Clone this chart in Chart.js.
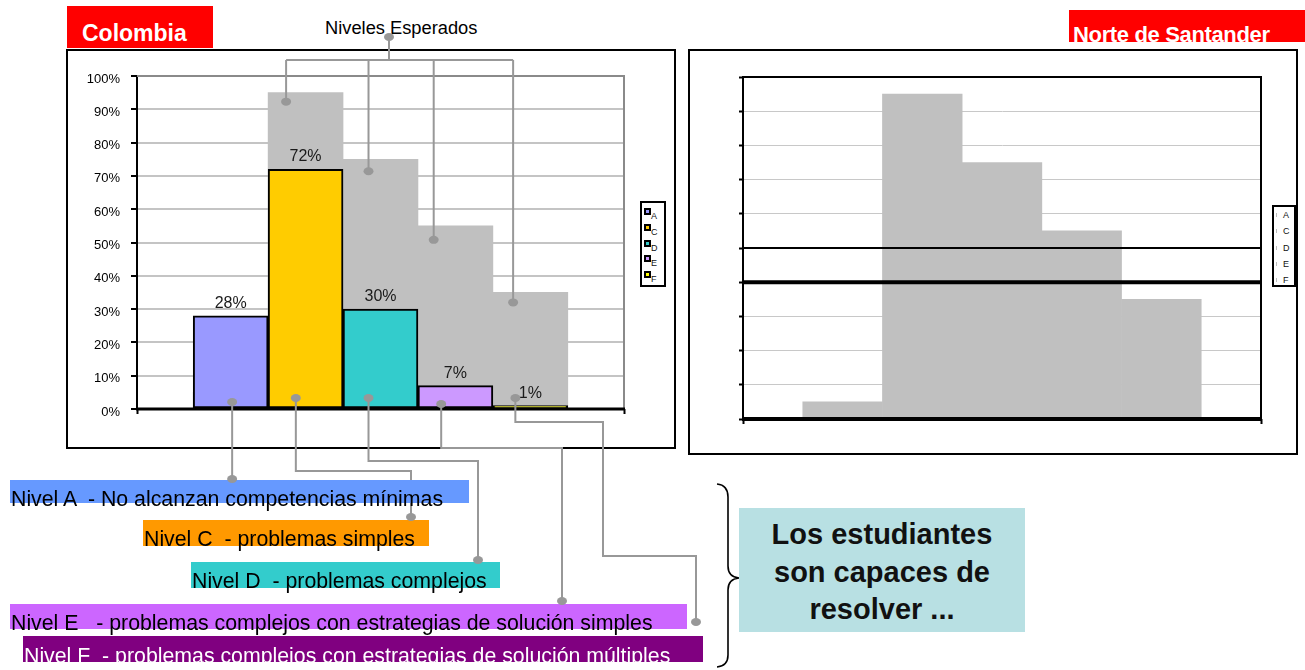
<!DOCTYPE html>
<html lang="es">
<head>
<meta charset="utf-8">
<title>Niveles de desempeño - Colombia / Norte de Santander</title>
<script src="https://cdn.jsdelivr.net/npm/chart.js@4.4.1/dist/chart.umd.min.js"></script>
<style>
    html, body { margin: 0; padding: 0; background: #fff; }
    body { width: 1305px; height: 670px; position: relative; overflow: hidden; font-family: "Liberation Sans", Arial, sans-serif; }
    .abs { position: absolute; }
    .red-title { position: absolute; background: #FF0000; color: #fff; font-weight: bold; overflow: hidden; white-space: pre; }
    .frame { position: absolute; border: 2px solid #000; box-sizing: border-box; background: #fff; }
    canvas { position: absolute; }
    .lvl { position: absolute; z-index: 4; }
    .lvl .bg { position: absolute; left: 0; top: 0; right: 0; bottom: 0; }
    .lvl .txt { position: absolute; left: 1px; white-space: pre; font-size: 21.3px; line-height: 21px; color: #000; }
    .legend { position: absolute; border: 2px solid #000; box-sizing: border-box; background: #fff; z-index: 3; }
    .legend .row { position: absolute; left: 0; font-size: 9px; line-height: 9px; color: #111; }
    .legend .sw { position: absolute; box-sizing: border-box; }
    svg { position: absolute; left: 0; top: 0; overflow: visible; }
</style>
</head>
<body>

<!-- títulos -->
<div class="red-title" style="left:67px;top:6px;width:146px;height:42px;font-size:23px;line-height:23px;padding:16px 0 0 15px;box-sizing:border-box;">Colombia</div>
<div class="red-title" style="left:1069px;top:10px;width:236px;height:32px;font-size:22px;line-height:22px;letter-spacing:-0.35px;padding:14px 0 0 4px;box-sizing:border-box;">Norte de Santander</div>
<div class="abs" style="left:325px;top:19px;font-size:18.3px;line-height:18px;color:#000;white-space:pre;">Niveles Esperados</div>

<!-- marcos de los gráficos -->
<div class="frame" style="left:66px;top:49px;width:610px;height:400px;"></div>
<div class="frame" style="left:688px;top:49px;width:610px;height:406px;"></div>

<canvas id="chart-colombia" width="610" height="400" style="left:66px;top:49px;z-index:1"></canvas>
<canvas id="chart-santander" width="610" height="406" style="left:688px;top:49px;z-index:1"></canvas>

<div id="legend-colombia" class="legend" style="left:640px;top:201px;width:26px;height:86px;"></div>
<div id="legend-santander" class="legend" style="left:1272px;top:205px;width:24px;height:82px;"></div>

<svg id="links" width="1305" height="670" style="z-index:2"></svg>

<!-- descripción de niveles -->
<div class="lvl" style="left:10px;top:480px;width:459px;height:23px;"><div class="bg" style="background:#6699FF"></div><div class="txt" style="top:9px">Nivel A  - No alcanzan competencias mínimas</div></div>
<div class="lvl" style="left:143px;top:520px;width:286px;height:26px;"><div class="bg" style="background:#FF9900"></div><div class="txt" style="top:9px">Nivel C  - problemas simples</div></div>
<div class="lvl" style="left:191px;top:562px;width:309px;height:26px;"><div class="bg" style="background:#33CCCC"></div><div class="txt" style="top:9px">Nivel D  - problemas complejos</div></div>
<div class="lvl" style="left:10px;top:604px;width:677px;height:25px;"><div class="bg" style="background:#CC66FF"></div><div class="txt" style="top:9px">Nivel E   - problemas complejos con estrategias de solución simples</div></div>
<div class="lvl" style="left:23px;top:636px;width:680px;height:26px;overflow:hidden;"><div class="bg" style="background:#800080"></div><div class="txt" style="top:10px;color:#fff">Nivel F  - problemas complejos con estrategias de solución múltiples</div></div>

<svg id="dots" width="1305" height="670" style="z-index:5"></svg>

<!-- llave y conclusión -->
<svg width="1305" height="670" style="z-index:3">
    <path d="M717 484 Q728 485 728 497 L728 566 Q728 577 739 578 Q728 579 728 590 L728 655 Q728 666 717 667" fill="none" stroke="#000" stroke-width="1.6"/>
</svg>
<div class="abs" style="left:739px;top:508px;width:286px;height:124px;background:#B8E0E3;box-sizing:border-box;padding-top:8px;text-align:center;font-weight:bold;font-size:29px;line-height:37.5px;color:#111;z-index:3;">Los estudiantes<br>son capaces de<br>resolver ...</div>

<script>
(function () {
    // ---- datos ----
    const levels = ['A', 'C', 'D', 'E', 'F'];
    const levelColors = ['#9999FF', '#FFCC00', '#33CCCC', '#CC99FF', '#FFFF00'];
    const colombiaPct = [28, 72, 30, 7, 1];
    const expectedPct = [5, 95, 75, 55, 35];
    const santanderExpectedPct = [5, 95, 75, 55, 35];
    const santanderMarks = [50, 40];

    Chart.defaults.font.family = '"Liberation Sans", Arial, sans-serif';

    // posición de cada nivel en un eje lineal (unidades = ancho de barra)
    const slot = i => i + 1.25;
    const toPoints = arr => arr.map((v, i) => ({ x: slot(i), y: v }));

    const framePlugin = {
        id: 'frame',
        afterDatasetsDraw(chart, args, opts) {
            const { ctx, chartArea: a } = chart;
            const y = chart.scales.y;
            ctx.save();
            ctx.lineCap = 'butt';
            (opts.marks || []).forEach((v, i) => {
                ctx.strokeStyle = '#000';
                ctx.lineWidth = opts.markWidths[i];
                ctx.beginPath();
                ctx.moveTo(a.left, y.getPixelForValue(v));
                ctx.lineTo(a.right, y.getPixelForValue(v));
                ctx.stroke();
            });
            ctx.strokeStyle = opts.color;
            ctx.lineWidth = 2;
            ctx.beginPath();
            ctx.moveTo(a.left, a.top);
            ctx.lineTo(a.right, a.top);
            ctx.lineTo(a.right, a.bottom);
            ctx.stroke();
            ctx.strokeStyle = '#000';
            ctx.lineWidth = opts.axisWidth;
            ctx.beginPath();
            ctx.moveTo(a.left - 1, a.bottom);
            ctx.lineTo(a.right + 1, a.bottom);
            ctx.stroke();
            ctx.restore();
        }
    };

    const valueLabels = {
        id: 'valueLabels',
        afterDatasetsDraw(chart, args, opts) {
            if (!opts.show) return;
            const { ctx } = chart;
            const meta = chart.getDatasetMeta(0);
            ctx.save();
            ctx.font = '16px "Liberation Sans", Arial, sans-serif';
            ctx.fillStyle = '#1a1a1a';
            ctx.textAlign = 'center';
            ctx.textBaseline = 'middle';
            meta.data.forEach((bar, i) => {
                ctx.fillText(`${chart.data.datasets[0].data[i].y}%`, bar.x, bar.y - 12.5);
            });
            ctx.restore();
        }
    };

    function makeOptions(cfg) {
        return {
            responsive: false,
            animation: false,
            events: [],
            layout: { padding: { left: 0, top: cfg.top, right: cfg.right, bottom: 0 } },
            plugins: {
                legend: { display: false },
                tooltip: { enabled: false },
                frame: { color: cfg.frameColor, axisWidth: cfg.axisWidth, marks: cfg.marks, markWidths: [2, 4] },
                valueLabels: { show: cfg.labels }
            },
            scales: {
                x: {
                    type: 'linear', min: 0, max: 6.5, offset: false,
                    afterBuildTicks: s => { s.ticks = [{ value: 0 }, { value: 6.5 }]; },
                    afterFit: s => { s.height = cfg.bottom; },
                    ticks: { display: false },
                    grid: { drawOnChartArea: false, offset: false, tickLength: 5, tickColor: '#000', tickWidth: 2 },
                    border: { display: false }
                },
                y: {
                    min: 0, max: 100,
                    afterFit: s => { s.width = cfg.yWidth; },
                    ticks: {
                        display: cfg.yLabels, stepSize: 10, padding: 11, labelOffset: 3,
                        color: '#000', font: { size: 13 },
                        callback: v => `${v}%`
                    },
                    grid: { color: cfg.gridColor, lineWidth: cfg.gridWidth, tickLength: cfg.tickLength, tickColor: '#000', tickWidth: 2 },
                    border: { color: '#000', width: 2 }
                }
            }
        };
    }

    const colombiaChart = new Chart(document.getElementById('chart-colombia'), {
        type: 'bar',
        data: {
            datasets: [
                {
                    label: 'Colombia',
                    data: toPoints(colombiaPct),
                    backgroundColor: levelColors,
                    borderColor: '#000',
                    borderWidth: 2,
                    borderSkipped: false,
                    grouped: false,
                    barPercentage: 1,
                    categoryPercentage: 1
                },
                {
                    label: 'Niveles esperados',
                    data: toPoints(expectedPct),
                    backgroundColor: '#C0C0C0',
                    borderWidth: 0,
                    grouped: false,
                    barPercentage: 1,
                    categoryPercentage: 1
                }
            ]
        },
        options: makeOptions({ top: 27, right: 52, bottom: 40, yWidth: 71, yLabels: true, gridColor: '#C4C4C4', gridWidth: 2, tickLength: 6, frameColor: '#8A8A8A', axisWidth: 3, marks: [], labels: true }),
        plugins: [framePlugin, valueLabels]
    });

    new Chart(document.getElementById('chart-santander'), {
        type: 'bar',
        data: {
            datasets: [
                {
                    label: 'Niveles esperados',
                    data: toPoints(santanderExpectedPct),
                    backgroundColor: '#C0C0C0',
                    borderWidth: 0,
                    grouped: false,
                    barPercentage: 1,
                    categoryPercentage: 1
                }
            ]
        },
        options: makeOptions({ top: 28, right: 37, bottom: 36, yWidth: 55, yLabels: false, gridColor: '#C8C8C8', gridWidth: 1, tickLength: 4, frameColor: '#000', axisWidth: 4, marks: santanderMarks, labels: false }),
        plugins: [framePlugin, valueLabels]
    });

    // ---- leyendas ----
    document.getElementById('legend-colombia').innerHTML = levels.map((l, i) => `
        <div class="sw" style="left:2px;top:${5 + i * 15.8}px;width:7px;height:7px;border:2px solid #000;background:${levelColors[i]}"></div>
        <div class="row" style="left:9px;top:${9 + i * 15.8}px">${l}</div>`).join('');
    document.getElementById('legend-santander').innerHTML = levels.map((l, i) => `
        <div class="sw" style="left:2px;top:${6 + i * 16.3}px;width:1px;height:4px;background:#BBB"></div>
        <div class="row" style="left:9px;top:${4 + i * 16.3}px">${l}</div>`).join('');

    // ---- conectores ----
    const off = { left: 66, top: 49 };
    const gray = '#989898';
    const lines = [];
    const dots = [];

    function barPoint(ds, i, frac) {
        const b = colombiaChart.getDatasetMeta(ds).data[i];
        return { x: off.left + b.x - b.width / 2 + frac * b.width, top: off.top + b.y, base: off.top + b.base };
    }

    // niveles esperados (barras grises)
    const hub = { x: 389, y: 37, bus: 60 };
    const topLinks = [
        { i: 1, frac: 0.24, dy: 9 },
        { i: 2, frac: 0.34, dy: 12 },
        { i: 3, frac: 0.21, dy: 14 },
        { i: 4, frac: 0.27, dy: 10 }
    ];
    const tops = topLinks.map(t => { const p = barPoint(1, t.i, t.frac); return [p.x, p.top + t.dy]; });
    lines.push([[hub.x, hub.y], [hub.x, hub.bus]]);
    lines.push([[tops[0][0], hub.bus], [tops[tops.length - 1][0], hub.bus]]);
    dots.push([hub.x, hub.y]);
    tops.forEach(([x, y]) => { lines.push([[x, hub.bus], [x, y]]); dots.push([x, y]); });

    // barras de Colombia hacia las descripciones
    const bottomLinks = [
        { i: 0, frac: 0.52, up: 6, route: x => [[x, 479]] },
        { i: 1, frac: 0.37, up: 10, route: x => [[x, 471], [411, 471], [411, 517]] },
        { i: 2, frac: 0.34, up: 10, route: x => [[x, 461], [478, 461], [478, 560]] },
        { i: 3, frac: 0.31, up: 4, route: x => [[x, 448], [562, 448], [562, 601]] },
        { i: 4, frac: 0.30, up: 10, route: x => [[x, 422], [603, 422], [603, 556], [696, 556], [696, 622]] }
    ];
    bottomLinks.forEach(l => {
        const p = barPoint(0, l.i, l.frac);
        const start = [p.x, p.base - l.up];
        const pts = [start].concat(l.route(p.x));
        lines.push(pts);
        dots.push(start, pts[pts.length - 1]);
    });

    document.getElementById('links').innerHTML = lines.map(pts =>
        `<polyline points="${pts.map(p => p.join(',')).join(' ')}" fill="none" stroke="${gray}" stroke-width="2"/>`).join('');
    document.getElementById('dots').innerHTML = dots.map(([x, y]) =>
        `<ellipse cx="${x}" cy="${y}" rx="5" ry="4" fill="${gray}"/>`).join('');
})();
</script>
</body>
</html>
